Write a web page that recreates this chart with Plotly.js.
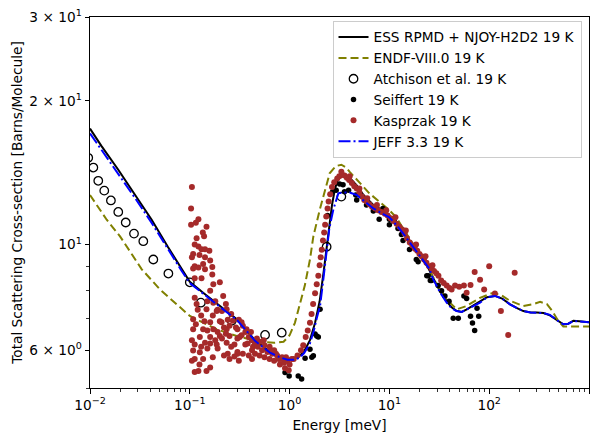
<!DOCTYPE html>
<html><head><meta charset="utf-8">
<script src="https://cdn.plot.ly/plotly-3.0.1.min.js"></script>
<style>html,body{margin:0;padding:0;background:#fff}#chart{width:598px;height:434px}</style>
</head><body><div id="chart"></div><script>
// ---- data (Energy in meV, cross-section in barns/molecule) ----
const essE  = [0.01,0.013,0.0192,0.028,0.0415,0.06,0.083,0.1,0.136,0.2,0.3,0.45,0.637,0.8,0.95,1.1,1.25,1.4,1.6,1.8,2.0,2.2,2.35,2.5,2.66,2.85,3.1,3.45,4.0,4.7,5.5,6.9,8.5,10,12.6,15.9,20,23.7,27.5,32,37.5,42,47,53,59,70,81,95,114,135,161,190,220,260,300,350,406,470,553,620,697,800,948,1000];
const essXS = [17.5,16.1,14.35,12.75,11.27,9.9,8.87,8.35,7.92,7.43,6.95,6.3,5.95,5.82,5.75,5.76,5.83,5.97,6.3,6.85,7.6,8.8,9.9,11.0,12.1,13.1,13.8,14.0,13.8,13.3,12.7,12.1,11.8,11.5,10.9,10.2,9.5,9.05,8.5,8.0,7.6,7.38,7.26,7.22,7.3,7.45,7.6,7.75,7.8,7.7,7.5,7.35,7.25,7.2,7.2,7.18,7.1,6.95,6.8,6.82,6.92,6.9,6.87,6.87];

const endfE  = [0.01,0.0147,0.02,0.0272,0.033,0.0502,0.07,0.1,0.186,0.3,0.5,0.7,0.87,1.0,1.13,1.26,1.42,1.6,1.73,2.0,2.17,2.52,2.9,3.3,3.7,4.0,5.0,6.3,7.9,10,11.7,13,15.9,20,25,30,37.5,47.2,59.4,80.9,106,130,161,220,280,324,379,430,480,553,800,1000];
const endfXS = [12.7,11.27,10.4,9.45,8.87,8.05,7.55,7.08,6.64,6.42,6.25,6.22,6.25,6.45,6.85,7.43,8.2,9.3,10.4,11.8,12.6,14.1,14.6,14.7,14.5,14.2,13.5,12.8,12.3,11.8,11.4,11.0,10.3,9.55,8.85,8.25,7.67,7.31,7.43,7.73,7.9,7.85,7.62,7.43,7.5,7.58,7.5,7.25,6.97,6.73,6.73,6.73];

const atchisonE  = [0.0096,0.0108,0.0121,0.0139,0.0162,0.0192,0.0228,0.0276,0.0342,0.0431,0.061,0.1,0.129,0.263,0.568,0.834,2.35,3.3];
const atchisonXS = [15.2,14.5,13.6,12.97,12.37,11.7,11.12,10.54,10.16,9.30,8.69,8.33,7.55,6.92,6.46,6.53,9.89,12.6];

const seiffertE  = [0.90,0.99,1.22,1.32,1.43,1.60,1.67,1.73,1.80,1.87,1.94,2.02,2.4,2.7,2.93,3.17,3.43,3.55,3.9,4.6,4.7,5.9,6.9,7.9,8.6,10,10,11.2,12.2,13.2,13.7,15.9,18.6,19.4,23.7,24.5,25.7,26.5,30.8,33.3,36,39.6,43.6,49,55.8,59.4,65,68,71.5,75.5,78.5];
const seiffertXS = [5.39,5.30,5.30,5.22,5.77,6.03,5.8,5.84,6.49,6.43,6.4,7.31,11.5,12.9,13.0,13.4,13.35,12.9,13.0,12.7,12.4,12.1,11.75,11.3,11.9,11.0,11.3,11.2,10.8,10.5,10.2,9.76,9.3,9.2,8.6,8.6,8.4,8.4,8.2,8.0,7.8,7.6,7.0,7.0,7.8,7.7,7.07,6.84,6.6,7.35,7.07];

const kasprzakE = [
 0.105,0.103,0.103,0.115,0.122,0.147,0.135,0.139,0.117,0.112,0.122,0.131,0.142,0.157,0.108,0.105,0.125,0.142,0.160,0.136,0.112,0.108,0.122,0.142,0.168,0.168,0.131,0.112,
 0.172,0.2,0.160,0.216,0.112,0.117,0.172,0.147,0.186,0.234,0.108,0.160,0.208,0.27,0.33,0.108,0.136,0.172,0.234,0.30,0.37,0.126,0.160,0.2,0.25,0.316,0.112,0.142,0.186,0.234,0.28,0.36,0.108,0.126,0.30,0.112,0.136,0.122,0.160,0.147,0.112,
 0.18,0.19,0.2,0.21,0.23,0.24,0.26,0.22,0.25,0.19,0.23,0.29,0.31,0.34,0.36,0.39,0.41,0.18,0.21,0.26,0.3,0.33,0.38,0.43,0.19,0.24,0.3,0.34,0.39,0.42,0.17,0.22,0.28,0.25,0.31,0.15,0.16,0.15,0.14,0.17,0.15,0.13,0.12,0.115,0.105,0.13,0.125,0.105,
 0.42,0.42,0.45,0.45,0.48,0.5,0.5,0.53,0.56,0.56,0.6,0.63,0.63,0.67,0.7,0.7,0.75,0.78,0.8,0.84,0.88,0.9,0.95,1.0,0.98,1.05,0.47,0.55,0.65,0.73,0.82,0.92,
 1.1,1.2,1.3,1.37,1.45,1.52,1.6,1.66,1.72,1.8,1.87,1.94,2.0,2.05,2.1,2.16,2.22,2.27,2.33,2.4,2.46,2.55,2.66,2.8,3.0,3.15,3.35,3.55,3.75,3.95,4.2,4.45,4.7,5.0,5.3,5.6,5.9,6.3,6.7,7.2,7.7,8.3,9.0,9.6,10.3,11,11.8,12.6,13.4,14.2,15,16,17,18,19,20,21,22.2,23.5,25,26.5,28,29.5,31,33,35,37.5,40,42,45.5,50,55.8,59.4,65,71.5,81,89,100,114,131,155,180,
 3.3,4.0,5.0,6.0,7.5,9.3,11.5,14.6,18.5,23,27
];
const kasprzakXS = [
 13.2,11.9,11.0,11.1,11.3,10.9,10.6,10.4,10.3,10.0,9.9,9.77,9.77,9.7,9.55,9.4,9.5,9.4,9.26,9.1,9.0,8.9,8.95,8.87,8.97,8.65,8.5,8.5,
 8.25,8.33,8.0,7.8,7.73,7.5,7.55,7.31,7.25,7.31,6.97,6.87,6.87,6.92,6.87,6.64,6.64,6.64,6.64,6.64,6.64,6.4,6.4,6.43,6.43,6.4,6.17,6.22,6.17,6.22,6.17,6.17,5.99,5.94,5.9,5.75,5.75,5.43,5.52,5.43,5.40,
 7.6,7.3,6.9,7.25,7.5,6.95,7.15,6.7,6.75,6.55,6.5,6.7,6.95,6.75,6.55,6.4,6.55,6.3,6.35,6.1,6.35,6.45,6.2,6.1,6.05,5.9,5.95,5.9,5.85,5.75,5.8,5.85,5.82,5.75,5.7,6.05,6.2,6.6,6.9,7.1,7.6,7.1,7.3,6.8,6.3,6.1,5.6,5.7,
 6.3,6.0,6.2,5.9,6.1,6.25,5.85,6.0,6.15,5.8,5.95,6.1,5.75,5.9,6.0,5.7,5.85,5.75,5.6,5.8,5.65,5.5,5.7,5.6,5.45,5.75,6.35,6.3,6.0,5.9,5.75,5.8,
 5.75,5.85,6.0,6.15,6.4,6.6,6.85,7.15,7.5,7.9,8.25,8.6,9.05,9.4,9.75,10.2,10.6,11.0,11.45,11.9,12.3,12.75,13.2,13.5,13.75,13.9,14.0,13.95,13.8,13.65,13.45,13.25,13.1,12.85,12.6,12.4,12.3,12.15,12.0,11.9,11.8,11.7,11.6,11.5,11.35,11.2,11.05,10.9,10.75,10.55,10.3,10.1,9.95,9.8,9.7,9.55,9.45,9.3,9.15,9.0,8.9,8.8,8.7,8.6,8.4,8.3,8.2,8.1,8.05,8.2,8.15,8.2,7.92,8.22,8.76,8.43,8.05,9.0,7.89,7.25,6.46,8.72,
 14.2,13.9,13.1,12.5,12.1,11.8,11.4,10.7,10.0,9.45,9.05
];

const jeffE  = [0.01,0.013,0.0192,0.028,0.0415,0.06,0.083,0.1,0.136,0.2,0.3,0.45,0.637,0.8,0.95,1.1,1.25,1.4,1.6,1.75,1.87,2.02,2.2,2.35,2.5,2.74,3.08,3.45,4.0,4.7,5.9,6.9,8.5,10,12.6,14.9,20,25.1,27.5,32,37.5,42,47,53,59,70,81,95,114,135,161,190,220,260,300,350,406,470,553,620,697,800,948,1000];
const jeffXS = [17.1,15.8,14.1,12.55,11.1,9.78,8.8,8.3,7.88,7.4,6.93,6.28,5.93,5.8,5.73,5.73,5.78,5.92,6.2,6.6,7.0,7.43,8.6,9.76,10.8,11.83,12.8,12.85,12.85,12.7,12.2,11.9,11.6,11.4,10.8,10.3,9.45,8.9,8.45,7.95,7.55,7.35,7.25,7.22,7.3,7.45,7.55,7.75,7.8,7.7,7.49,7.35,7.25,7.2,7.19,7.18,7.12,6.95,6.8,6.82,6.91,6.9,6.87,6.87];

const legendNames = ["ESS RPMD + NJOY-H2D2 19 K","ENDF-VIII.0 19 K","Atchison et al. 19 K","Seiffert 19 K","Kasprzak 19 K","JEFF 3.3 19 K"];
const xTickVals = [0.01,0.1,1,10,100,1000];
const xTickText = ["10<sup>\u22122</sup>","10<sup>\u22121</sup>","10<sup>0</sup>","10<sup>1</sup>","10<sup>2</sup>","10<sup>3</sup>"];
const yTickVals = [6,10,20,30];
const yTickText = ["6 \u00d7 10<sup>0</sup>","10<sup>1</sup>","2 \u00d7 10<sup>1</sup>","3 \u00d7 10<sup>1</sup>"];
const yMinorVals = [5,7,8,9];

// minor x ticks 2..9 per decade
const xMinorVals = [];
for (let d = -2; d < 3; d++) for (let m = 2; m <= 9; m++) xMinorVals.push(m * Math.pow(10, d));

const FONT = "DejaVu Sans, Liberation Sans, sans-serif";
const FS = 13.7;

const traces = [
  {x: essE, y: essXS, name: legendNames[0], mode: "lines", line: {color: "#000000", width: 2}},
  {x: endfE, y: endfXS, name: legendNames[1], mode: "lines", line: {color: "#808000", width: 2, dash: "8px,4px"}},
  {x: atchisonE, y: atchisonXS, name: legendNames[2], mode: "markers",
   marker: {symbol: "circle-open", size: 8.5, color: "#000000", line: {width: 1.3, color: "#000000"}}},
  {x: seiffertE, y: seiffertXS, name: legendNames[3], mode: "markers", marker: {size: 5.5, color: "#000000"}},
  {x: kasprzakE, y: kasprzakXS, name: legendNames[4], mode: "markers", marker: {size: 6, color: "#a52a2a"}},
  {x: jeffE, y: jeffXS, name: legendNames[5], mode: "lines", line: {color: "#0000ff", width: 2, dash: "12px,3px,2px,3px"}}
];

const axisCommon = {
  type: "log", showgrid: false, zeroline: false,
  showline: true, mirror: true, linecolor: "#000000", linewidth: 1,
  ticks: "outside", ticklen: 4.5, tickwidth: 1, tickcolor: "#000000",
  tickfont: {family: FONT, size: FS, color: "#000000"},
  tickmode: "array"
};

const layout = {
  width: 598, height: 434,
  margin: {l: 90, r: 9, t: 17, b: 46, pad: 0},
  paper_bgcolor: "#ffffff", plot_bgcolor: "#ffffff",
  font: {family: FONT, size: FS, color: "#000000"},
  showlegend: true,
  xaxis: Object.assign({}, axisCommon, {
    range: [-2, 3], tickvals: xTickVals, ticktext: xTickText,
    minor: {tickmode: "array", tickvals: xMinorVals, ticks: "outside", ticklen: 2.6, tickwidth: 0.8, tickcolor: "#000000", showgrid: false},
    title: {text: "Energy [meV]", font: {family: FONT, size: FS, color: "#000000"}, standoff: 8},
    automargin: false
  }),
  yaxis: Object.assign({}, axisCommon, {
    range: [Math.log10(5), Math.log10(30)], tickvals: yTickVals, ticktext: yTickText,
    minor: {tickmode: "array", tickvals: yMinorVals, ticks: "outside", ticklen: 2.6, tickwidth: 0.8, tickcolor: "#000000", showgrid: false},
    title: {text: "Total Scattering Cross-section [Barns/Molecule]", font: {family: FONT, size: FS, color: "#000000"}, standoff: 3},
    automargin: false
  }),
  legend: {
    x: 0.985, xanchor: "right", y: 0.99, yanchor: "top",
    bgcolor: "rgba(255,255,255,0.8)", bordercolor: "#cccccc", borderwidth: 1,
    font: {family: FONT, size: FS, color: "#000000"},
    itemwidth: 30, tracegroupgap: 0
  }
};

Plotly.newPlot("chart", traces, layout, {displayModeBar: false, staticPlot: true});
</script></body></html>
